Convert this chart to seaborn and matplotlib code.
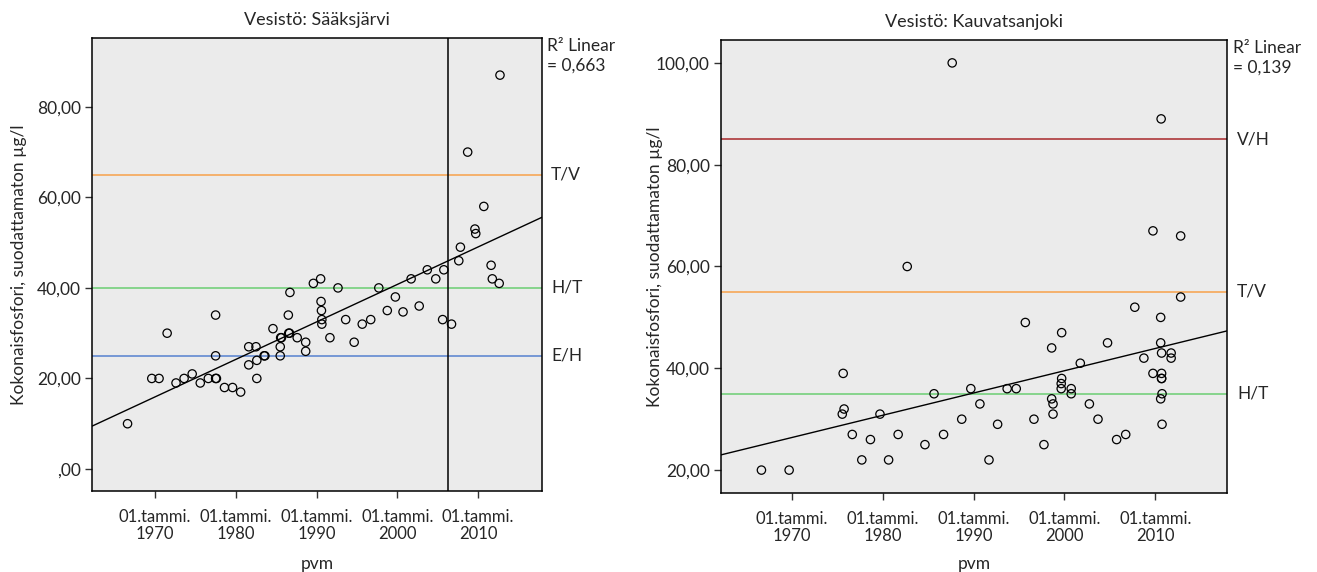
import matplotlib
matplotlib.use("Agg")
import matplotlib.pyplot as plt
import matplotlib.transforms as mtransforms
from matplotlib.ticker import FuncFormatter
import numpy as np
import pandas as pd
import seaborn as sns

# -----------------------------------------------------------------------------
# DATA (luettu kuvasta; x = desimaalivuosi)
# -----------------------------------------------------------------------------
saaks_year = [
    1966.6, 1969.6, 1970.5, 1971.5, 1972.6, 1973.6, 1974.6, 1975.6, 1976.6,
    1977.5, 1977.5, 1977.5, 1977.6, 1978.6, 1979.6, 1980.6, 1981.6, 1981.6,
    1982.5, 1982.6, 1982.6, 1983.5, 1983.6, 1984.6, 1985.5, 1985.5, 1985.55,
    1985.65, 1986.5, 1986.55, 1986.65, 1986.7, 1987.6, 1988.65, 1988.65,
    1989.6, 1990.5, 1990.55, 1990.6, 1990.65, 1990.65, 1991.65, 1992.65,
    1993.6, 1994.65, 1995.65, 1996.7, 1997.7, 1998.75, 1999.75, 2000.7,
    2001.7, 2002.7, 2003.7, 2004.75, 2005.6, 2005.75, 2006.7, 2007.6, 2007.8,
    2008.7, 2009.6, 2009.7, 2010.7, 2011.6, 2011.75, 2012.6, 2012.7,
]
saaks_value = [
    10, 20, 20, 30, 19, 20, 21, 19, 20,
    34, 25, 20, 20, 18, 18, 17, 27, 23,
    27, 24, 20, 25, 25, 31, 27, 25, 29,
    29, 34, 30, 30, 39, 29, 28, 26,
    41, 42, 37, 35, 33, 32, 29, 40,
    33, 28, 32, 33, 40, 35, 38, 34.7,
    42, 36, 44, 42, 33, 44, 32, 46, 49,
    70, 53, 52, 58, 45, 42, 41, 87,
]

kauv_year = [
    1966.65, 1969.7, 1975.55, 1975.65, 1975.75, 1976.65, 1977.7, 1978.65,
    1979.7, 1980.65, 1981.7, 1982.7, 1984.65, 1985.65, 1986.7, 1987.65,
    1988.7, 1989.7, 1990.7, 1991.7, 1992.65, 1993.7, 1994.7, 1995.7,
    1996.65, 1997.75, 1998.6, 1998.6, 1998.75, 1998.75, 1999.7, 1999.7,
    1999.65, 1999.65, 2000.75, 2000.75, 2001.75, 2002.75, 2003.7, 2004.75,
    2005.75, 2006.75, 2007.75, 2008.75, 2009.75, 2009.75, 2010.6, 2010.6,
    2010.65, 2010.7, 2010.7, 2010.7, 2010.7, 2010.75, 2010.6, 2010.75,
    2011.75, 2011.75, 2012.8, 2012.8,
]
kauv_value = [
    20, 20, 31, 39, 32, 27, 22, 26,
    31, 22, 27, 60, 25, 35, 27, 100,
    30, 36, 33, 22, 29, 36, 36, 49,
    30, 25, 44, 34, 33, 31, 47, 38,
    37, 36, 36, 35, 41, 33, 30, 45,
    26, 27, 52, 42, 39, 67, 50, 45,
    89, 43, 39, 38, 38, 35, 34, 29,
    43, 42, 54, 66,
]

# raja-arvot (nimi, arvo, väri)
saaks_limits = [("T/V", 65, "#f7a14a"), ("H/T", 40, "#6acd72"), ("E/H", 25, "#5581cf")]
kauv_limits = [("V/H", 85, "#a8282a"), ("T/V", 55, "#f7a14a"), ("H/T", 35, "#6acd72")]
saaks_vline = 2006.3

r2_texts = ["0,663", "0,139"]
titles = ["Vesistö: Sääksjärvi", "Vesistö: Kauvatsanjoki"]
tick_years = [1970, 1980, 1990, 2000, 2010]
saaks_yticks = [0, 20, 40, 60, 80]
kauv_yticks = [20, 40, 60, 80, 100]

ylabel = "Kokonaisfosfori, suodattamaton µg/l"

# -----------------------------------------------------------------------------
# ULKOASU
# -----------------------------------------------------------------------------
sns.set_style("ticks")
plt.rcParams["font.family"] = ["Lato", "DejaVu Sans"]
plt.rcParams["font.size"] = 12


def fi_fmt(v, pos):
    s = f"{v:.2f}".replace(".", ",")
    if s.startswith("0,"):
        s = s[1:]
    return s


def plot_panel(ax, years, values, title, limits, r2, ylim, yticks,
               ylab_x, xlab_y, vline=None):
    ax.set_facecolor("#ebebeb")
    ax.set_xlim(1962.2, 2017.9)
    ax.set_ylim(*ylim)

    trans = mtransforms.blended_transform_factory(ax.transAxes, ax.transData)
    for name, val, col in limits:
        ax.axhline(val, color=col, linewidth=1.1, zorder=1)
        ax.text(1.02, val, name, transform=trans, va="center", ha="left",
                fontsize=12.5)

    if vline is not None:
        ax.axvline(vline, color="black", linewidth=1.1, zorder=1)

    df = pd.DataFrame({"pvm": years, "arvo": values})
    sns.regplot(data=df, x="pvm", y="arvo", scatter=False, ci=None,
                truncate=False, line_kws={"color": "black", "linewidth": 1.0},
                ax=ax)
    sns.scatterplot(data=df, x="pvm", y="arvo", marker="o", s=36,
                    facecolor="none", edgecolor="black", linewidth=0.9,
                    zorder=3, ax=ax)

    ax.set_title(title, fontsize=13, pad=9)
    ax.set_xlabel("pvm", fontsize=12.5, va="top")
    ax.xaxis.set_label_coords(0.5, xlab_y)
    ax.set_ylabel(ylabel, fontsize=12.5)
    ax.yaxis.set_label_coords(ylab_x, 0.5)
    ax.set_xticks(tick_years)
    ax.set_xticklabels([f"01.tammi.\n{y}" for y in tick_years],
                       linespacing=1.1, fontsize=12)
    ax.set_yticks(yticks)
    ax.yaxis.set_major_formatter(FuncFormatter(fi_fmt))
    ax.tick_params(axis="y", labelsize=12.5)
    ax.tick_params(axis="both", length=5, width=1, color="#333333")
    ax.tick_params(axis="x", pad=8)
    ax.tick_params(axis="y", pad=3)
    for sp in ax.spines.values():
        sp.set_visible(True)
        sp.set_color("black")
        sp.set_linewidth(1.1)

    ax.text(1.012, 1.0, f"R² Linear\n= {r2}", transform=ax.transAxes,
            va="top", ha="left", fontsize=12.5, linespacing=1.3)


fig = plt.figure(figsize=(13.17, 5.72), dpi=100)
ax1 = fig.add_axes([92 / 1317, 1 - 491 / 572, 450 / 1317, 453 / 572])
ax2 = fig.add_axes([721 / 1317, 1 - 493 / 572, 506 / 1317, 453 / 572])

plot_panel(ax1, saaks_year, saaks_value, titles[0], saaks_limits, r2_texts[0],
           (-4.86, 95.2), saaks_yticks, -0.145, -0.1435, vline=saaks_vline)
plot_panel(ax2, kauv_year, kauv_value, titles[1], kauv_limits, r2_texts[1],
           (15.5, 104.5), kauv_yticks, -0.115, -0.139)

fig.savefig("out.png", dpi=100)
